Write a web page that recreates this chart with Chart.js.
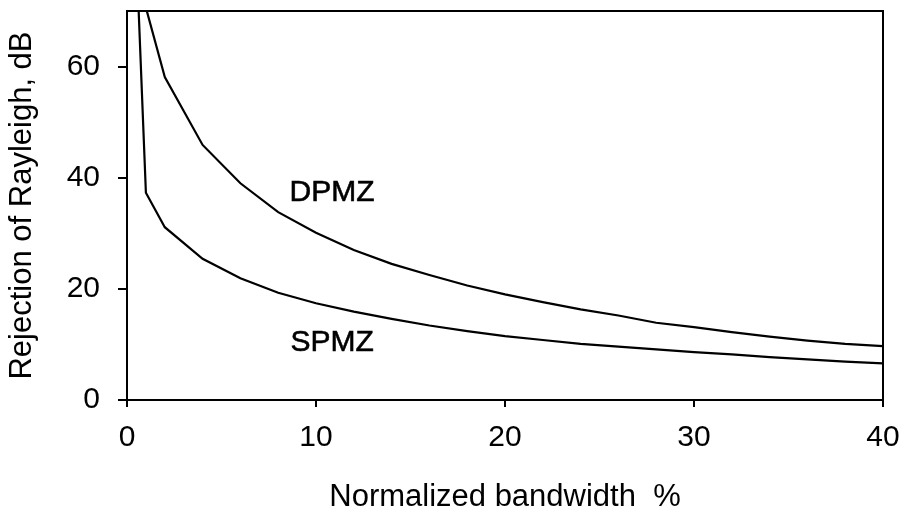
<!DOCTYPE html>
<html><head><meta charset="utf-8">
<script src="https://cdn.jsdelivr.net/npm/chart.js@4"></script>
<style>html,body{margin:0;padding:0;background:#fff}canvas{display:block}</style>
</head><body>
<canvas id="c" width="907" height="520"></canvas>
<script>
// Normalized bandwidth, %
const bandwidth = [0.5, 1, 2, 4, 6, 8, 10, 12, 14, 16, 18, 20, 22, 24, 26, 28, 30, 32, 34, 36, 38, 40];
// Rejection of Rayleigh, dB
const spmz = [80, 37.3, 31.1, 25.4, 21.9, 19.3, 17.4, 15.9, 14.6, 13.4, 12.4, 11.5, 10.8, 10.1, 9.6, 9.1, 8.6, 8.2, 7.7, 7.3, 6.9, 6.6];
const dpmz = [null, 70.6, 58.1, 45.9, 39.0, 33.8, 30.1, 27.0, 24.5, 22.5, 20.6, 19.0, 17.6, 16.3, 15.2, 13.9, 13.1, 12.2, 11.4, 10.7, 10.1, 9.7];
const xTicks = [0, 10, 20, 30, 40];
const yTicks = [0, 20, 40, 60];
const curveLabels = [
  { text: 'DPMZ', x: 10.85, y: 37.3 },
  { text: 'SPMZ', x: 10.85, y: 10.3 }
];

const FONT = 'Liberation Sans, Arial, sans-serif';
const toPoints = ys => bandwidth.map((x, i) => ({ x, y: ys[i] })).filter(p => p.y !== null);

const framePlugin = {
  id: 'frame',
  afterDraw(chart) {
    const { ctx, chartArea: a } = chart;
    ctx.save();
    ctx.strokeStyle = '#000';
    ctx.lineWidth = 2;
    ctx.strokeRect(a.left, a.top, a.right - a.left, a.bottom - a.top);
    ctx.restore();
  }
};
const labelPlugin = {
  id: 'curveLabels',
  afterDatasetsDraw(chart) {
    const { ctx, scales } = chart;
    ctx.save();
    ctx.fillStyle = '#000';
    ctx.strokeStyle = '#000';
    ctx.lineWidth = 0.6;
    ctx.font = '30px ' + FONT;
    ctx.textAlign = 'center';
    ctx.textBaseline = 'middle';
    curveLabels.forEach(l => {
      const px = scales.x.getPixelForValue(l.x), py = scales.y.getPixelForValue(l.y);
      ctx.fillText(l.text, px, py);
      ctx.strokeText(l.text, px, py);
    });
    ctx.restore();
  }
};

new Chart(document.getElementById('c'), {
  type: 'line',
  data: {
    datasets: [
      { label: 'SPMZ', data: toPoints(spmz), borderColor: '#000', borderWidth: 2.2, pointRadius: 0, tension: 0, fill: false },
      { label: 'DPMZ', data: toPoints(dpmz), borderColor: '#000', borderWidth: 2.2, pointRadius: 0, tension: 0, fill: false }
    ]
  },
  options: {
    responsive: false,
    animation: false,
    devicePixelRatio: 1,
    layout: { padding: { left: 0, right: 24, top: 11, bottom: 0 } },
    plugins: { legend: { display: false }, tooltip: { enabled: false } },
    scales: {
      x: {
        type: 'linear', min: 0, max: 40,
        afterFit: s => { s.height = 120; s.paddingLeft = 0; s.paddingRight = 0; },
        afterBuildTicks: s => { s.ticks = xTicks.map(v => ({ value: v })); },
        border: { display: false },
        grid: { drawOnChartArea: false, color: '#000', lineWidth: 2, tickLength: 7 },
        ticks: { color: '#000', font: { family: FONT, size: 30 }, padding: 13, maxRotation: 0 },
        title: { display: true, text: 'Normalized bandwidth  %', color: '#000', font: { family: FONT, size: 31 }, padding: { top: 0, bottom: 4 } }
      },
      y: {
        type: 'linear', min: 0, max: 70,
        afterFit: s => { s.width = 127; s.paddingTop = 0; s.paddingBottom = 0; },
        afterBuildTicks: s => { s.ticks = yTicks.map(v => ({ value: v })); },
        border: { display: false },
        grid: { drawOnChartArea: false, color: '#000', lineWidth: 2, tickLength: 9 },
        ticks: { color: '#000', font: { family: FONT, size: 30 }, padding: 18 },
        title: { display: true, text: 'Rejection of Rayleigh, dB', color: '#000', font: { family: FONT, size: 31 }, padding: { top: 4, bottom: 0 } }
      }
    }
  },
  plugins: [framePlugin, labelPlugin]
});
</script>
</body></html>
